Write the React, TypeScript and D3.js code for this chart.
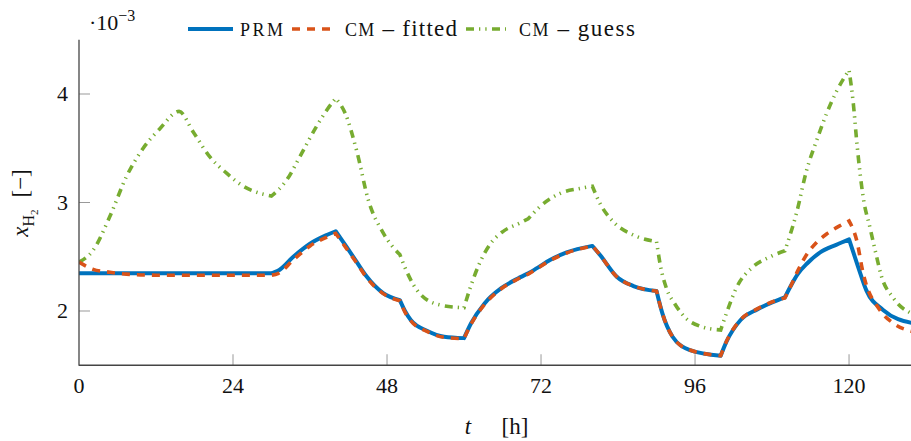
import React from "react";
import * as d3 from "d3";

const W = 911;
const H = 441;

// axis ticks
const xTicks = [0, 24, 48, 72, 96, 120];
const yTicks = [2, 3, 4];
const xDomain: [number, number] = [0, 130];
const yDomain: [number, number] = [1.5, 4.5];

type Pt = [number, number];

// PRM hydrogen fraction (×1e-3), one array per 10 h switching interval
const prmSegments: Pt[][] = [
  [[0, 2.347], [15, 2.347], [30, 2.347]],
  [[30, 2.347], [31, 2.37], [33.4, 2.5], [36, 2.62], [38.6, 2.7], [40, 2.735]],
  [[40, 2.735], [41.7, 2.59], [43.3, 2.45], [44.8, 2.32], [47.4, 2.165], [50, 2.1]],
  [[50, 2.1], [50.8, 2.0], [51.7, 1.917], [54.3, 1.816], [56.9, 1.763], [60, 1.75]],
  [[60, 1.75], [61.1, 1.887], [63.2, 2.07], [65.8, 2.21], [68.4, 2.3], [70, 2.347]],
  [[70, 2.347], [71.5, 2.4], [73.4, 2.47], [76, 2.54], [80, 2.6]],
  [[80, 2.6], [81.2, 2.516], [83.8, 2.316], [86.4, 2.23], [90, 2.184]],
  [[90, 2.184], [90.9, 1.98], [92.5, 1.763], [95.2, 1.64], [100, 1.588]],
  [[100, 1.588], [100.9, 1.717], [103.1, 1.917], [105.7, 2.015], [108.3, 2.086], [110, 2.126]],
  [[110, 2.126], [111, 2.24], [112, 2.34], [113.5, 2.44], [115.5, 2.54], [118, 2.61], [120, 2.66]],
  [[120, 2.66], [121.4, 2.41], [122.7, 2.19], [125.3, 2.01], [130, 1.887]],
];

// CM with fitted parameters
const fittedSegments: Pt[][] = [
  [[0, 2.45], [2.2, 2.384], [4.8, 2.357], [7.4, 2.34], [12, 2.33], [30, 2.33]],
  [[30, 2.33], [31, 2.345], [33.4, 2.47], [36, 2.6], [38.6, 2.68], [40, 2.715]],
  [[40, 2.715], [41.7, 2.575], [43.3, 2.44], [44.8, 2.31], [47.4, 2.16], [50, 2.095]],
  [[50, 2.095], [50.8, 1.99], [51.7, 1.91], [54.3, 1.81], [56.9, 1.757], [60, 1.745]],
  [[60, 1.745], [61.1, 1.88], [63.2, 2.06], [65.8, 2.205], [68.4, 2.295], [70, 2.34]],
  [[70, 2.34], [71.5, 2.395], [73.4, 2.465], [76, 2.535], [80, 2.6]],
  [[80, 2.6], [81.2, 2.516], [83.8, 2.316], [86.4, 2.23], [90, 2.184]],
  [[90, 2.184], [90.9, 1.98], [92.5, 1.763], [95.2, 1.64], [100, 1.588]],
  [[100, 1.588], [100.9, 1.72], [103.1, 1.92], [105.7, 2.02], [108.3, 2.09], [110, 2.12]],
  [[110, 2.12], [111, 2.24], [112, 2.37], [113.4, 2.52], [115, 2.635], [116.5, 2.71], [118.7, 2.79], [120, 2.83]],
  [[120, 2.83], [121.2, 2.65], [122.2, 2.347], [124.8, 2.01], [126.9, 1.887], [130, 1.81]],
];

// CM with guessed parameters
const guessSegments: Pt[][] = [
  [[0, 2.45], [2.2, 2.56], [4.8, 2.87], [7.4, 3.24], [10, 3.5], [12.6, 3.68], [15.6, 3.84],
   [17.8, 3.65], [20.4, 3.42], [23, 3.27], [25.6, 3.15], [28.2, 3.085], [30, 3.06]],
  [[30, 3.06], [32.4, 3.21], [34.4, 3.42], [37, 3.7], [38.6, 3.85], [40, 3.96]],
  [[40, 3.96], [41.5, 3.82], [43.3, 3.47], [45.1, 3.02], [47.4, 2.72], [50, 2.52]],
  [[50, 2.52], [51.1, 2.36], [53.1, 2.16], [56.3, 2.055], [60, 2.03]],
  [[60, 2.03], [61, 2.22], [62.5, 2.45], [64, 2.61], [66, 2.73], [68.7, 2.81], [70, 2.85]],
  [[70, 2.85], [71.8, 2.96], [75, 3.085], [78.1, 3.13], [80, 3.15]],
  [[80, 3.15], [81.2, 2.99], [83.3, 2.82], [86.4, 2.7], [90, 2.64]],
  [[90, 2.64], [90.6, 2.42], [91.6, 2.2], [92.8, 2.07], [94.3, 1.95], [96.8, 1.86], [100, 1.825]],
  [[100, 1.825], [100.9, 1.98], [102.5, 2.22], [105.1, 2.41], [107.7, 2.5], [110, 2.555]],
  [[110, 2.555], [111.8, 2.9], [113.4, 3.3], [115, 3.58], [116.5, 3.82], [118.1, 4.03], [120, 4.22]],
  [[120, 4.22], [120.6, 3.95], [121.3, 3.5], [122.2, 3.05], [123.3, 2.76], [124.3, 2.5],
   [125, 2.33], [126.9, 2.12], [130, 1.97]],
];

const BLUE = "#0072BD";
const ORANGE = "#D95319";
const GREEN = "#77AC30";
const FONT =
  '"Liberation Serif", "Times New Roman", Tinos, "Noto Serif", "DejaVu Serif", FreeSerif, Georgia, serif';

const left = 79;
const top = 39.75;
const bottom = 365.25;

export default function App() {
  const x = d3.scaleLinear().domain(xDomain).range([left, left + 130 * 6.417]);
  const y = d3.scaleLinear().domain(yDomain).range([bottom, top]);

  const line = d3
    .line<Pt>()
    .x((d) => x(d[0]))
    .y((d) => y(d[1]))
    .curve(d3.curveMonotoneX);

  // join the interval pieces into one continuous path so dashes run on
  const joined = (segs: Pt[][]) =>
    segs
      .map((s, i) => {
        const p = line(s) as string;
        return i === 0 ? p : "L" + p.slice(1);
      })
      .join("");

  const guessDash = "8 5 1.3 5 1.3 5.4";
  const fittedDash = "8 7";
  const txt = { fontFamily: FONT, fill: "#111" };

  return (
    <svg
      width={W}
      height={H}
      style={{ position: "absolute", left: 0, top: 0, background: "#fff", fontFamily: FONT }}
    >
      <defs>
        <clipPath id="plotArea">
          <rect x={left} y={top - 5} width={W - left} height={bottom - top + 5} />
        </clipPath>
      </defs>

      {/* ticks */}
      {xTicks.map((t) => (
        <g key={"xt" + t}>
          {t !== 0 && (
            <line x1={x(t)} x2={x(t)} y1={bottom} y2={bottom - 11} stroke="#999" strokeWidth={1} />
          )}
          <text x={x(t)} y={bottom + 28} textAnchor="middle" fontSize={22} style={txt}>
            {t}
          </text>
        </g>
      ))}
      {yTicks.map((t) => (
        <g key={"yt" + t}>
          <line x1={left} x2={left + 11} y1={y(t)} y2={y(t)} stroke="#999" strokeWidth={1} />
          <text x={68} y={y(t) + 7} textAnchor="end" fontSize={22} style={txt}>
            {t}
          </text>
        </g>
      ))}

      {/* series */}
      <g clipPath="url(#plotArea)" fill="none">
        <path d={joined(guessSegments)} stroke={GREEN} strokeWidth={3.6} strokeDasharray={guessDash} />
        <path d={joined(prmSegments)} stroke={BLUE} strokeWidth={4} strokeLinejoin="round" />
        <path d={joined(fittedSegments)} stroke={ORANGE} strokeWidth={3.6} strokeDasharray={fittedDash} />
      </g>

      {/* axis lines */}
      <line x1={left} x2={left} y1={top} y2={bottom + 0.5} stroke="#444" strokeWidth={1.3} />
      <line x1={left} x2={W} y1={bottom} y2={bottom} stroke="#444" strokeWidth={1.3} />

      {/* scale factor */}
      <text x={89} y={30} fontSize={22} style={txt}>
        ·10
        <tspan dy={-9} fontSize={16}>
          −3
        </tspan>
      </text>

      {/* axis labels */}
      <text x={468} y={434} fontSize={23} textAnchor="middle" style={txt}>
        <tspan fontStyle="italic">t</tspan>
      </text>
      <text x={515} y={434} fontSize={23} textAnchor="middle" style={txt}>
        [h]
      </text>
      <g transform="translate(28,203) rotate(-90)">
        <text x={0} y={0} fontSize={23} textAnchor="middle" style={txt}>
          <tspan fontStyle="italic">x</tspan>
          <tspan fontSize={16} dy={6}>H</tspan>
          <tspan fontSize={11} dy={4}>2</tspan>
          <tspan dy={-10} dx={12}>[−]</tspan>
        </text>
      </g>

      {/* legend */}
      <g>
        <line x1={188} x2={233} y1={29} y2={29} stroke={BLUE} strokeWidth={4} />
        <text x={240} y={36} fontSize={18} style={txt} textLength={43}>PRM</text>
        <line x1={292} x2={333} y1={29} y2={29} stroke={ORANGE} strokeWidth={3.6} strokeDasharray={fittedDash} />
        <text x={345} y={36} fontSize={23} style={txt} textLength={112}>
          <tspan fontSize={18}>CM</tspan> – fitted
        </text>
        <line x1={466} x2={506} y1={29} y2={29} stroke={GREEN} strokeWidth={3.6} strokeDasharray={guessDash} />
        <text x={519} y={36} fontSize={23} style={txt} textLength={116}>
          <tspan fontSize={18}>CM</tspan> – guess
        </text>
      </g>
    </svg>
  );
}
